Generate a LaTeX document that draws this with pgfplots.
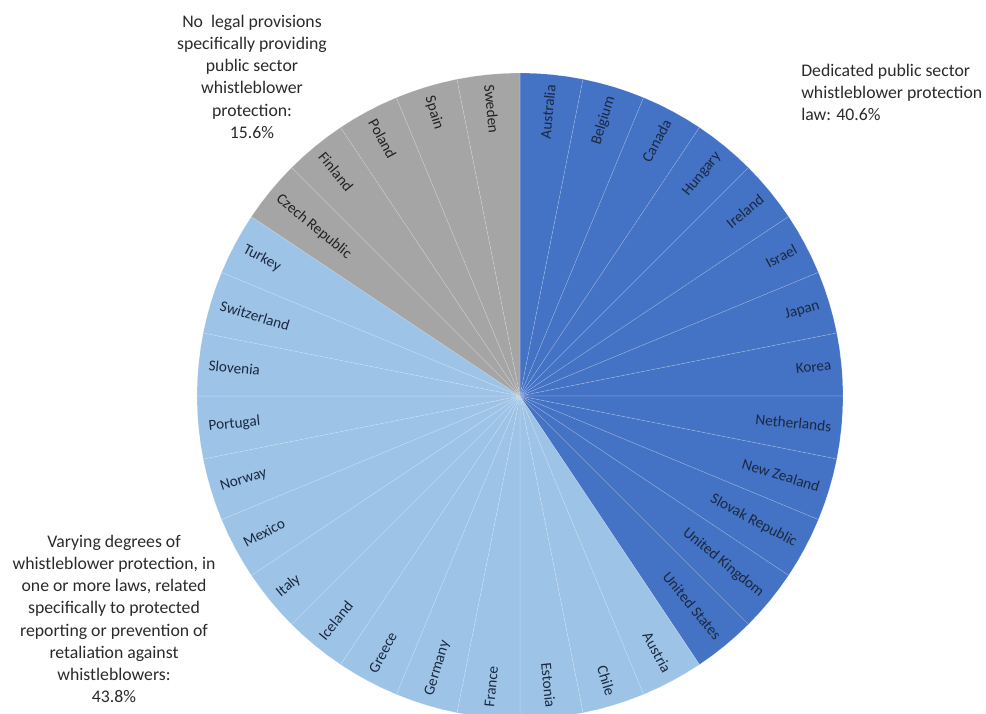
\documentclass[border=0pt]{standalone}
\usepackage{pgfplots}
\pgfplotsset{compat=1.18}
\usepgfplotslibrary{polar}
\usepackage{fontspec}
\setmainfont{Carlito}
\definecolor{cDed}{HTML}{4472C4}
\definecolor{cVar}{HTML}{9DC3E6}
\definecolor{cNo}{HTML}{A5A5A5}
\definecolor{lblB}{HTML}{1B2840}
\definecolor{lblG}{HTML}{222222}
\definecolor{txt}{HTML}{2A2A2A}
\newcommand{\slice}[6]{\addplot[fill=#1, draw=white, draw opacity=0.2, line width=0.5pt] coordinates {(0,0) (#2,323) (#3,323) (#4,323) (#5,323) (#6,323)} -- cycle;}
\tikzset{lbl/.style={font=\fontsize{11.4}{13}\selectfont, inner sep=0pt}}
\newcommand{\R}[3]{\node[lbl, text=#3, rotate=#1, anchor=east] at (axis cs:#1,313) {#2};}
\newcommand{\Lf}[3]{\node[lbl, text=#3, rotate=#1-180, anchor=west] at (axis cs:#1,313) {#2};}
\begin{document}
\begin{tikzpicture}
\useasboundingbox (0,0) rectangle (739.5pt,535.5pt);
\begin{polaraxis}[at={(390pt,238.5pt)}, anchor=origin, width=484.5pt, height=484.5pt, scale only axis, hide axis, xmin=0, xmax=360, ymin=0, ymax=323, clip=false]
% Dedicated public sector whistleblower protection law (13 countries)
\slice{cDed}{90}{87.1875}{84.375}{81.5625}{78.75}
\slice{cDed}{78.75}{75.9375}{73.125}{70.3125}{67.5}
\slice{cDed}{67.5}{64.6875}{61.875}{59.0625}{56.25}
\slice{cDed}{56.25}{53.4375}{50.625}{47.8125}{45}
\slice{cDed}{45}{42.1875}{39.375}{36.5625}{33.75}
\slice{cDed}{33.75}{30.9375}{28.125}{25.3125}{22.5}
\slice{cDed}{22.5}{19.6875}{16.875}{14.0625}{11.25}
\slice{cDed}{11.25}{8.4375}{5.625}{2.8125}{0}
\slice{cDed}{0}{-2.8125}{-5.625}{-8.4375}{-11.25}
\slice{cDed}{-11.25}{-14.0625}{-16.875}{-19.6875}{-22.5}
\slice{cDed}{-22.5}{-25.3125}{-28.125}{-30.9375}{-33.75}
\slice{cDed}{-33.75}{-36.5625}{-39.375}{-42.1875}{-45}
\slice{cDed}{-45}{-47.8125}{-50.625}{-53.4375}{-56.25}
% Varying degrees (14 countries)
\slice{cVar}{-56.25}{-59.0625}{-61.875}{-64.6875}{-67.5}
\slice{cVar}{-67.5}{-70.3125}{-73.125}{-75.9375}{-78.75}
\slice{cVar}{-78.75}{-81.5625}{-84.375}{-87.1875}{-90}
\slice{cVar}{-90}{-92.8125}{-95.625}{-98.4375}{-101.25}
\slice{cVar}{-101.25}{-104.0625}{-106.875}{-109.6875}{-112.5}
\slice{cVar}{-112.5}{-115.3125}{-118.125}{-120.9375}{-123.75}
\slice{cVar}{-123.75}{-126.5625}{-129.375}{-132.1875}{-135}
\slice{cVar}{-135}{-137.8125}{-140.625}{-143.4375}{-146.25}
\slice{cVar}{-146.25}{-149.0625}{-151.875}{-154.6875}{-157.5}
\slice{cVar}{-157.5}{-160.3125}{-163.125}{-165.9375}{-168.75}
\slice{cVar}{-168.75}{-171.5625}{-174.375}{-177.1875}{-180}
\slice{cVar}{-180}{-182.8125}{-185.625}{-188.4375}{-191.25}
\slice{cVar}{-191.25}{-194.0625}{-196.875}{-199.6875}{-202.5}
\slice{cVar}{-202.5}{-205.3125}{-208.125}{-210.9375}{-213.75}
% No legal provisions (5 countries)
\slice{cNo}{-213.75}{-216.5625}{-219.375}{-222.1875}{-225}
\slice{cNo}{-225}{-227.8125}{-230.625}{-233.4375}{-236.25}
\slice{cNo}{-236.25}{-239.0625}{-241.875}{-244.6875}{-247.5}
\slice{cNo}{-247.5}{-250.3125}{-253.125}{-255.9375}{-258.75}
\slice{cNo}{-258.75}{-261.5625}{-264.375}{-267.1875}{-270}
% labels
\R{84.375}{Australia}{lblB}
\R{73.125}{Belgium}{lblB}
\R{61.875}{Canada}{lblB}
\R{50.625}{Hungary}{lblB}
\R{39.375}{Ireland}{lblB}
\R{28.125}{Israel}{lblB}
\R{16.875}{Japan}{lblB}
\R{5.625}{Korea}{lblB}
\R{-5.625}{Netherlands}{lblB}
\R{-16.875}{New Zealand}{lblB}
\R{-28.125}{Slovak Republic}{lblB}
\R{-39.375}{United Kingdom}{lblB}
\R{-50.625}{United States}{lblB}
\R{-61.875}{Austria}{lblB}
\R{-73.125}{Chile}{lblB}
\R{-84.375}{Estonia}{lblB}
\Lf{-95.625}{France}{lblB}
\Lf{-106.875}{Germany}{lblB}
\Lf{-118.125}{Greece}{lblB}
\Lf{-129.375}{Iceland}{lblB}
\Lf{-140.625}{Italy}{lblB}
\Lf{-151.875}{Mexico}{lblB}
\Lf{-163.125}{Norway}{lblB}
\Lf{-174.375}{Portugal}{lblB}
\Lf{-185.625}{Slovenia}{lblB}
\Lf{-196.875}{Switzerland}{lblB}
\Lf{-208.125}{Turkey}{lblB}
\Lf{-219.375}{Czech Republic}{lblG}
\Lf{-230.625}{Finland}{lblG}
\Lf{-241.875}{Poland}{lblG}
\Lf{-253.125}{Spain}{lblG}
\Lf{-264.375}{Sweden}{lblG}
\end{polaraxis}
\tikzset{ann/.style={font=\fontsize{13.3}{16.6}\selectfont, text=txt, inner sep=0pt}}
\node[ann, align=center, anchor=north] at (189pt,524.25pt) {No\ \ legal provisions\\specifically providing\\public sector\\whistleblower\\protection:\\15.6\%};
\node[ann, align=left, anchor=north west] at (600.75pt,487.5pt) {Dedicated public sector\\whistleblower protection\\law: 40.6\%};
\node[ann, align=center, anchor=north] at (85.5pt,134.25pt) {Varying degrees of\\whistleblower protection, in\\one or more laws, related\\specifically to protected\\reporting or prevention of\\retaliation against\\whistleblowers:\\43.8\%};
\end{tikzpicture}
\end{document}
